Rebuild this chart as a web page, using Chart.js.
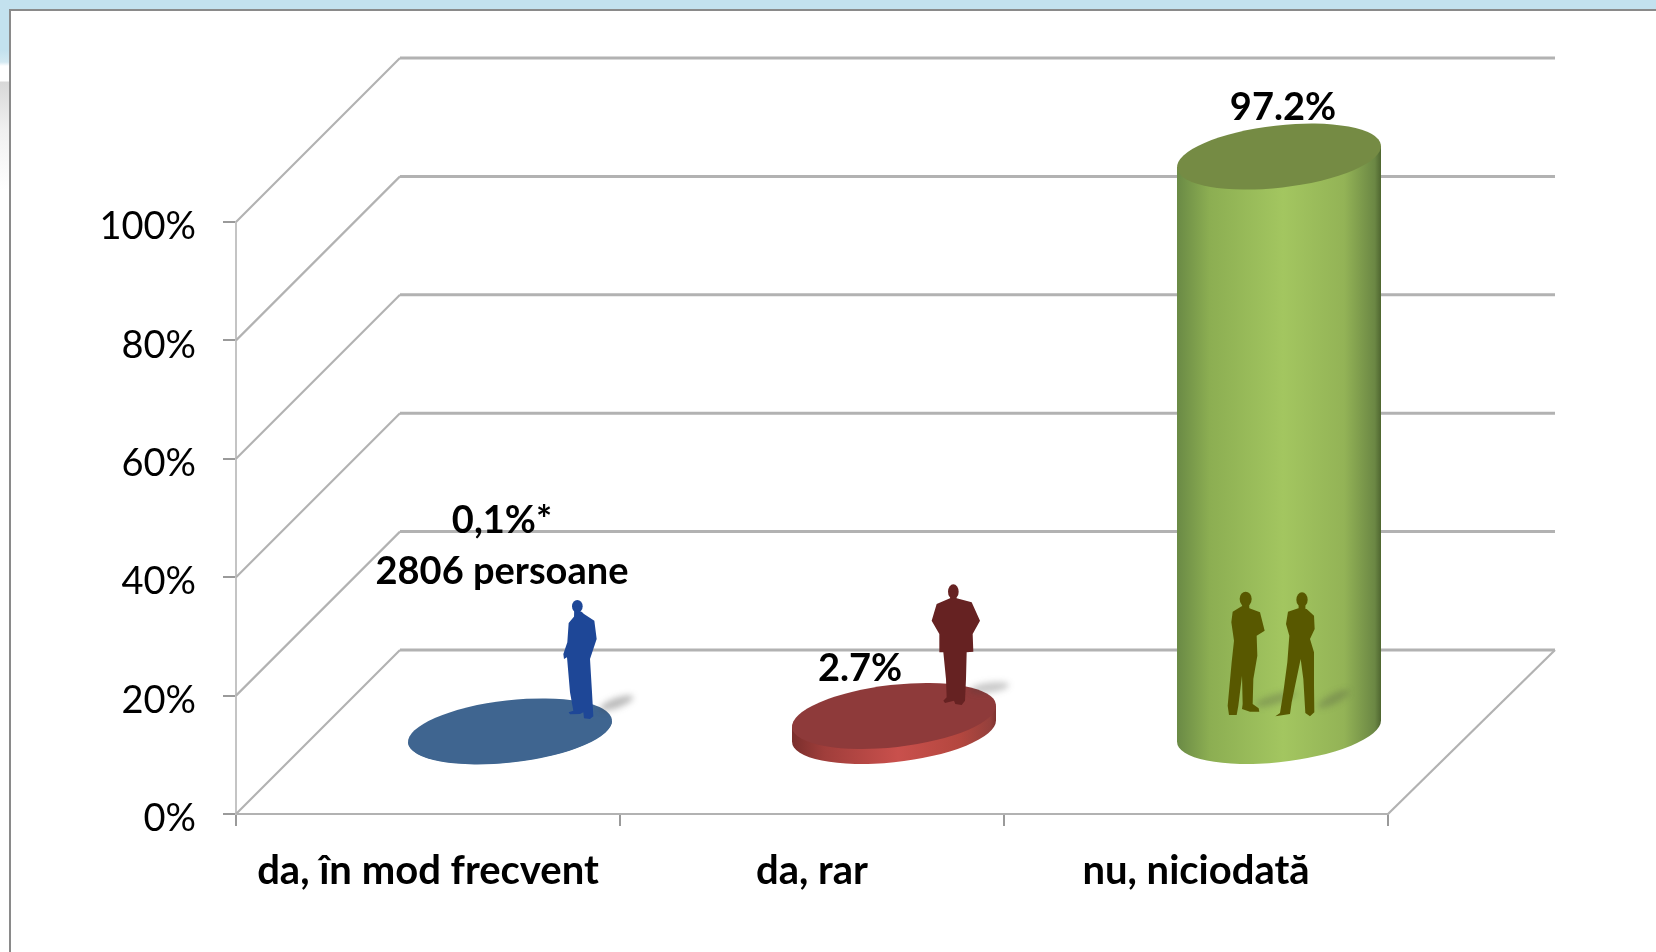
<!DOCTYPE html>
<html lang="ro">
<head>
<meta charset="utf-8">
<title>Chart</title>
<script src="https://cdn.jsdelivr.net/npm/chart.js@4/dist/chart.umd.min.js"></script>
<style>
html,body{margin:0;padding:0;width:1656px;height:952px;overflow:hidden;background:#fff}
#strip{position:absolute;left:0;top:0;width:1656px;height:190px;
 background:linear-gradient(to bottom,#c3e1ee 0,#c3e1ee 50px,#d3e9f2 62px,#ffffff 66px,#ffffff 81px,#d8d8d8 82px,#f0f0f0 130px,#ffffff 190px)}
#panel{position:absolute;left:9px;top:9px;width:1647px;height:943px;background:#fff;border-left:2px solid #8a8a8a;border-top:2px solid #8a8a8a;box-sizing:border-box}
canvas{position:absolute;left:0;top:0}
</style>
</head>
<body>
<div id="strip"></div>
<div id="panel"></div>
<canvas id="c" width="1656" height="952"></canvas>
<script>
const categories = ['da, în mod frecvent', 'da, rar', 'nu, niciodată'];
const values = [0.1, 2.7, 97.2];
const valueLabels = [['0,1%*', '2806 persoane'], ['2.7%'], ['97.2%']];
const yTicks = [0, 20, 40, 60, 80, 100];
const topColors = ['#3f6590', '#8e3a3a', '#758b44'];
const sideStops = [
  ['#3f6590', '#456f9f', '#4f7fb5', '#456f9f', '#3f6590', '#355578'],
  ['#7a2e2c', '#a03e3b', '#c9504c', '#b4473f', '#95403c', '#7f3230'],
  ['#6a8a45', '#8cae52', '#a3c660', '#93b356', '#6b8744', '#4f6630']
];
const gradientPositions = [0, 0.16, 0.52, 0.82, 0.97, 1];
const figureColors = ['#1e4797', '#662222', '#585800'];

const FONT = 'Lato, "Open Sans", sans-serif';
const DEPTH_X = 164, DEPTH_Y = -164;
const RX = 102.6, RY = 31.1, TILT = -6.5 * Math.PI / 180;
const LINE = '#b2b2b2';

function poly(ctx, pts) {
  ctx.beginPath();
  pts.forEach((p, i) => i ? ctx.lineTo(p[0], p[1]) : ctx.moveTo(p[0], p[1]));
  ctx.closePath();
  ctx.fill();
}
function figure(ctx, ox, oy, color, head, body) {
  ctx.save();
  ctx.translate(ox, oy);
  ctx.scale(1 / 3, 1 / 3);
  ctx.fillStyle = color;
  ctx.beginPath();
  ctx.ellipse(head[0], head[1], head[2], head[3], 0, 0, Math.PI * 2);
  ctx.fill();
  ctx.fillRect(head[0] - head[2] * 0.6, head[1], head[2] * 1.2, head[3] + 18);
  poly(ctx, body);
  ctx.restore();
}
function softShadow(ctx, x1, y1, x2, y2, alpha) {
  ctx.save();
  ctx.filter = 'blur(3px)';
  ctx.fillStyle = 'rgba(60,60,60,' + alpha + ')';
  const mx = (x1 + x2) / 2, my = (y1 + y2) / 2;
  const len = Math.hypot(x2 - x1, y2 - y1) / 2;
  ctx.beginPath();
  ctx.ellipse(mx, my, len, 5, Math.atan2(y2 - y1, x2 - x1), 0, Math.PI * 2);
  ctx.fill();
  ctx.restore();
}

const cylinders = {
  id: 'cylinders',
  beforeDatasetsDraw(chart) {
    const ctx = chart.ctx, y = chart.scales.y, x = chart.scales.x;
    const L = x.left, R = x.right;
    ctx.save();
    ctx.strokeStyle = LINE;
    yTicks.forEach(t => {
      const py = y.getPixelForValue(t);
      ctx.lineWidth = 2.2;
      ctx.beginPath();
      ctx.moveTo(L, py);
      ctx.lineTo(L + DEPTH_X, py + DEPTH_Y);
      ctx.stroke();
      ctx.lineWidth = 3;
      ctx.beginPath();
      ctx.moveTo(L + DEPTH_X, py + DEPTH_Y);
      ctx.lineTo(R + DEPTH_X + 3, py + DEPTH_Y);
      ctx.stroke();
    });
    const y0 = y.getPixelForValue(0);
    ctx.lineWidth = 2.2;
    ctx.beginPath();
    ctx.moveTo(R, y0);
    ctx.lineTo(R + DEPTH_X + 3, y0 + DEPTH_Y);
    ctx.stroke();
    ctx.restore();
  },
  beforeDatasetDraw(chart, args) {
    const ctx = chart.ctx;
    const t0 = Math.atan(-(RY / RX) * Math.tan(TILT));
    const hw = Math.sqrt(RX * RX * Math.cos(TILT) ** 2 + RY * RY * Math.sin(TILT) ** 2);
    const ex = RX * Math.cos(t0) * Math.cos(TILT) - RY * Math.sin(t0) * Math.sin(TILT);
    const ey = RX * Math.cos(t0) * Math.sin(TILT) + RY * Math.sin(t0) * Math.cos(TILT);
    args.meta.data.forEach((bar, i) => {
      const cx = bar.x + DEPTH_X / 2 + (i === 2 ? 1 : 0);
      const top = bar.y + DEPTH_Y / 2;
      const base = bar.base + DEPTH_Y / 2;
      ctx.save();
      const g = ctx.createLinearGradient(cx - hw, 0, cx + hw, 0);
      gradientPositions.forEach((p, k) => g.addColorStop(p, sideStops[i][k]));
      ctx.fillStyle = g;
      ctx.beginPath();
      ctx.moveTo(cx + ex, top + ey);
      ctx.ellipse(cx, base, RX, RY, TILT, t0, t0 + Math.PI);
      ctx.lineTo(cx - ex, top - ey);
      ctx.closePath();
      ctx.fill();
      ctx.fillStyle = topColors[i];
      ctx.beginPath();
      ctx.ellipse(cx, top, RX, RY, TILT, 0, Math.PI * 2);
      ctx.fill();
      ctx.restore();
    });
    return false;
  },
  afterDatasetsDraw(chart) {
    const ctx = chart.ctx;
    const bars = chart.getDatasetMeta(0).data;

    // silhouettes are anchored on each bar's category position
    const a0 = bars[0].x, a1 = bars[1].x, a2 = bars[2].x, b = bars[0].base;
    softShadow(ctx, a0 + 172, b - 104, a0 + 205, b - 116, 0.35);
    figure(ctx, a0 - 48, b - 334, figureColors[0], [592, 382, 16, 19], [
      [585,400],[583,412],[566,432],[562,490],[550,525],[552,540],[561,535],[570,640],[580,695],[566,700],
      [570,706],[600,705],[610,700],[612,718],[630,720],[640,712],[636,640],[630,540],[640,510],[650,480],
      [643,425],[612,405],[605,398]]);
    softShadow(ctx, a1 + 158, b - 123, a1 + 197, b - 128, 0.28);
    figure(ctx, a1 - 32, b - 244, figureColors[1], [520, 68, 16, 22], [
      [510,88],[470,105],[455,155],[478,195],[478,250],[490,250],[498,330],[500,385],[490,395],[495,402],
      [522,395],[526,405],[545,408],[555,395],[558,330],[560,250],[580,248],[578,195],[600,155],[575,100],[530,88]]);
    softShadow(ctx, a2 + 60, b - 108, a2 + 100, b - 120, 0.25);
    softShadow(ctx, a2 + 122, b - 106, a2 + 153, b - 122, 0.25);
    figure(ctx, a2 - 36, b - 244, figureColors[2], [257, 90, 18, 22], [
      [245,112],[218,128],[214,160],[222,215],[215,280],[203,410],[207,438],[230,438],[235,410],[246,320],
      [248,405],[246,420],[270,428],[298,428],[296,418],[278,405],[280,330],[292,260],[290,200],[314,185],
      [300,130],[268,118]]);
    figure(ctx, a2 - 36, b - 244, figureColors[2], [426, 92, 17, 22], [
      [415,118],[384,128],[378,165],[388,200],[382,280],[370,370],[360,432],[346,442],[390,435],[395,400],
      [422,270],[430,330],[436,432],[450,442],[463,430],[462,350],[462,250],[450,210],[464,180],[462,140],[440,120]]);

    // value labels
    ctx.save();
    ctx.fillStyle = '#000';
    ctx.textAlign = 'center';
    ctx.textBaseline = 'middle';
    ctx.font = 'bold 38px ' + FONT;
    ctx.fillText(valueLabels[0][0], bars[0].x + 74, b - 292);
    ctx.fillText(valueLabels[0][1], bars[0].x + 74, b - 241);
    ctx.fillText(valueLabels[1][0], bars[1].x + 48, bars[1].y - 129);
    ctx.fillText(valueLabels[2][0], bars[2].x + 87, bars[2].y - 131);
    ctx.restore();
  }
};

new Chart(document.getElementById('c'), {
  type: 'bar',
  data: {
    labels: categories,
    datasets: [{
      data: values,
      backgroundColor: topColors,
      barPercentage: 1,
      categoryPercentage: 0.53
    }]
  },
  options: {
    responsive: false,
    animation: false,
    layout: { padding: { top: 222, right: 268, left: 0, bottom: 0 } },
    plugins: { legend: { display: false }, tooltip: { enabled: false }, title: { display: false } },
    scales: {
      x: {
        afterFit(s) { s.height = 138; },
        border: { color: LINE, width: 2 },
        grid: { drawOnChartArea: false, drawTicks: true, tickLength: 12, color: '#9a9a9a', lineWidth: 2 },
        ticks: { color: '#000', padding: 21, maxRotation: 0, font: { family: FONT, weight: 'bold', size: 40 } }
      },
      y: {
        min: 0,
        max: 100,
        afterFit(s) { s.width = 236; },
        border: { color: '#c4c4c4', width: 2 },
        grid: { drawOnChartArea: false, drawTicks: true, tickLength: 13, color: '#9a9a9a', lineWidth: 2 },
        afterBuildTicks(s) { s.ticks = yTicks.map(v => ({ value: v })); },
        ticks: { color: '#000', padding: 27, labelOffset: 5, font: { family: FONT, size: 38 }, callback: v => v + '%' }
      }
    }
  },
  plugins: [cylinders]
});
</script>
</body>
</html>
